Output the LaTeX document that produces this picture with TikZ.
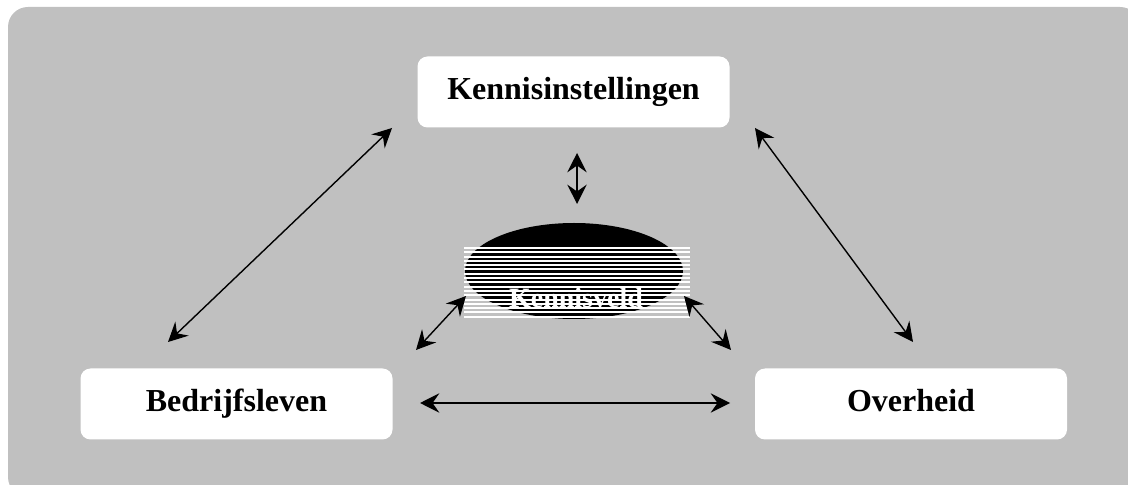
\documentclass[tikz,border=0pt]{standalone}
\usepackage{fontspec}
\setmainfont{Liberation Serif}
\usetikzlibrary{arrows.meta}
\tikzset{>={Stealth[width=3.4mm,length=3.4mm,inset=1.2mm]}}
\definecolor{bggrey}{RGB}{192,192,192}

\begin{document}
\begin{tikzpicture}[x=0.5pt,y=-0.5pt]
        \tikzstyle{party} = [fill=white, rounded corners=5pt, minimum width=156pt, minimum height=35.5pt, inner sep=0pt, text height=11pt, text depth=3.5pt, font=\fontsize{16}{18}\selectfont\bfseries]
        \tikzstyle{link} = [<->, line width=0.7pt]

        \useasboundingbox (0,0) rectangle (1128,485);
        \fill[bggrey, rounded corners=10pt] (8,7) rectangle (1140,497);

        \node[party] (kennis) at (573.5,92) {Kennisinstellingen};
        \node[party] (bedrijf) at (236.5,404) {Bedrijfsleven};
        \node[party] (overheid) at (911,404) {Overheid};

        % striped disc in the middle
        \fill[black] (574,271) ellipse [x radius=109, y radius=48];
        \node[text=white, font=\fontsize{14}{16}\selectfont\bfseries] (veld) at (576,298) {Kennisveld};
        \foreach \i in {0,...,16}
            \draw[white, line width=1pt] (464,248+4.3*\i) -- (690,248+4.3*\i);

        \coordinate (kl) at (392,128);
        \coordinate (bk) at (168,342);
        \coordinate (kr) at (755,128);
        \coordinate (ok) at (913,342);
        \coordinate (bo) at (420,403);
        \coordinate (ob) at (730,403);
        \coordinate (kv) at (577,153);
        \coordinate (vk) at (577,204);
        \coordinate (bv) at (416,350);
        \coordinate (vb) at (466,296);
        \coordinate (vo) at (684,296);
        \coordinate (ov) at (731,350);

        \draw[link] (kl) -- (bk);
        \draw[link] (kr) -- (ok);
        \draw[link] (bo) -- (ob);
        \draw[link] (kv) -- (vk);
        \draw[link] (bv) -- (vb);
        \draw[link] (vo) -- (ov);
\end{tikzpicture}
\end{document}
